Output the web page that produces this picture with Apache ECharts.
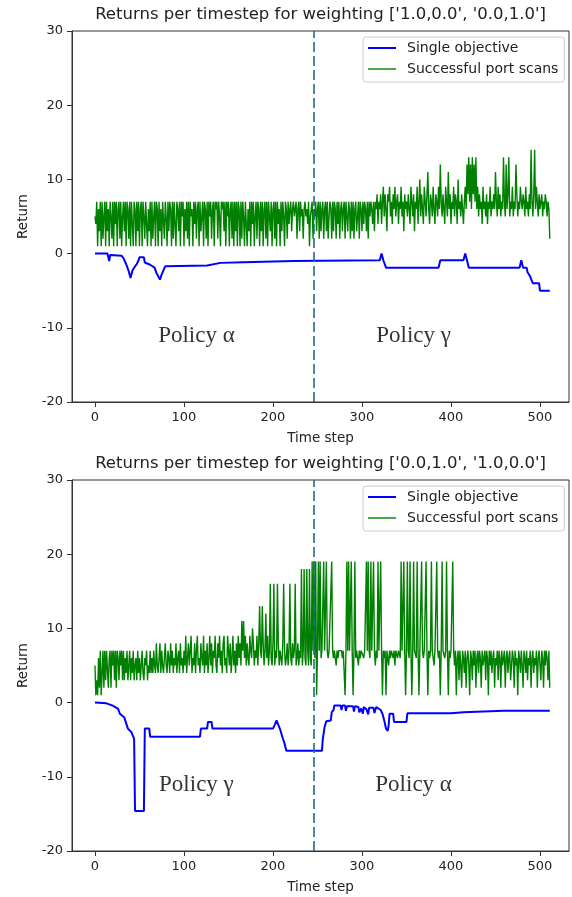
<!DOCTYPE html>
<html><head><meta charset="utf-8">
<script src="https://cdn.jsdelivr.net/npm/echarts@6/dist/echarts.min.js"></script>
<style>html,body{margin:0;padding:0;background:#fff}#c{width:572px;height:897px}</style>
</head><body><div id="c"></div>
<script>
// ---------------- data ----------------
const chartTitles = ["Returns per timestep for weighting ['1.0,0.0', '0.0,1.0']",
                     "Returns per timestep for weighting ['0.0,1.0', '1.0,0.0']"];
const seriesNames = ['Single objective', 'Successful port scans'];
const xTicks = [0, 100, 200, 300, 400, 500];
const yTicks = [-20, -10, 0, 10, 20, 30];
const switchStep = 246;

// top panel: single objective (breakpoints)
const topBlueX = [0,14,16,17,19,30,32,35,38,40,42,44,47,49,50,55,56,58,62,67,69,73,75,79,126,141,167,223,320,322,324,327,386,388,414,416,418,420,477,479,481,485,486,488,489,491,492,499,500,511];
const topBlueY = [0,0,-1,-0.2,-0.1,-0.3,-0.6,-1.4,-2.4,-3.3,-2.3,-1.9,-1.4,-0.9,-0.5,-0.5,-1.2,-1.2,-1.5,-1.9,-2.6,-3.5,-2.8,-1.7,-1.6,-1.25,-1.15,-1.0,-0.9,0,-0.9,-1.9,-1.9,-0.9,-0.9,0,-0.9,-1.9,-1.9,-0.9,-1.9,-1.9,-2.5,-2.5,-3.1,-3.1,-4.0,-4.0,-5.0,-5.0];
// top panel: successful port scans, one value per time step 0..511
const topGreen = [
5,4,7,1,6,3,7,1,7,2,5,7,1,7,3,6,1,7,5,2,7,1,7,4,7,1,6,7,2,7,1,5,
7,3,7,1,7,6,2,7,1,7,4,1,7,6,1,7,3,7,1,6,7,1,7,5,2,7,7,1,6,3,7,1,
7,2,5,7,1,7,6,1,7,3,6,1,7,7,2,7,5,1,7,3,7,6,1,7,2,7,4,1,7,6,3,7,
1,7,5,7,1,6,3,7,2,7,1,7,5,6,1,7,4,7,2,6,7,1,7,3,5,7,1,7,6,2,7,1,
7,5,7,2,6,7,1,7,6,7,2,7,5,1,7,6,7,3,7,1,7,5,7,1,6,7,2,7,1,7,3,7,
1,7,6,1,7,2,7,5,1,7,7,1,6,3,7,1,7,4,7,1,5,7,2,7,6,1,7,3,7,1,6,7,
2,7,1,7,5,3,7,1,6,7,2,7,1,7,4,6,1,7,3,7,5,1,7,6,2,7,4,6,7,3,6,7,
5,6,7,2,6,7,3,7,5,6,2,6,7,5,6,4,7,1,5,6,7,2,6,5,7,3,6,7,2,7,3,6,
7,2,6,7,3,7,2,5,7,6,2,7,3,7,6,2,7,4,7,2,6,7,3,6,7,2,7,5,3,7,6,2,
7,3,7,2,6,7,3,5,7,2,7,6,3,7,4,7,6,3,7,2,7,5,7,6,4,7,3,7,6,8,4,7,
6,8,4,7,9,5,8,6,3,8,7,9,5,7,4,8,6,9,5,7,8,4,7,6,9,5,7,3,8,6,7,5,
8,6,4,9,7,5,8,3,7,6,9,4,7,10,5,8,6,4,9,7,5,8,11,6,4,8,7,5,9,6,4,8,
7,5,9,6,12,7,5,8,6,4,9,7,5,11,6,8,4,7,6,9,5,8,7,4,10,6,7,5,8,6,4,7,
9,6,12,8,13,7,12,6,13,8,12,7,13,6,9,5,8,6,7,4,9,6,7,5,8,4,7,6,9,5,7,6,
8,6,11,7,5,9,6,8,5,7,6,13,7,5,12,6,8,13,5,7,6,9,5,7,6,12,8,5,7,6,9,7,
6,8,7,5,9,6,7,5,8,6,14,7,5,8,14,6,9,7,5,8,6,7,8,5,7,6,8,7,5,7,6,2];

// bottom panel: single objective (breakpoints)
const botBlueX = [0,13,20,26,28,33,34,37,41,44,45,55,56,61,62,118,119,126,127,131,132,200,202,204,206,208,211,213,215,255,256,258,260,265,266,268,269,271,276,277,278,281,282,283,290,291,292,296,297,299,301,302,305,307,308,313,314,316,318,321,323,325,327,329,330,331,335,336,350,351,400,414,444,459,511];
const botBlueY = [0,-0.1,-0.4,-0.85,-1.5,-2.0,-2.4,-3.5,-4.0,-4.9,-14.6,-14.6,-3.5,-3.5,-4.6,-4.6,-3.5,-3.5,-2.6,-2.6,-3.5,-3.5,-3.0,-2.4,-3.0,-3.6,-4.8,-5.5,-6.5,-6.5,-4.9,-3.3,-2.5,-2.4,-1.3,-1.0,-0.4,-0.4,-0.4,-1.0,-0.4,-0.4,-1.1,-0.5,-0.5,-1.2,-0.5,-0.6,-1.3,-0.8,-1.5,-0.6,-0.9,-1.6,-0.7,-0.7,-1.4,-0.6,-0.6,-1.0,-1.5,-2.4,-3.5,-3.8,-3.0,-1.5,-1.5,-2.6,-2.6,-1.45,-1.45,-1.3,-1.15,-1.1,-1.1];
// bottom panel: successful port scans, one value per time step 0..511
const botGreen = [
5,1,3,1,6,2,7,1,4,7,2,7,3,7,7,2,6,7,2,7,5,7,3,7,2,7,6,3,7,5,7,3,
7,3,6,4,7,3,5,7,3,6,4,7,3,5,6,3,7,4,6,3,5,7,4,3,6,5,7,3,5,4,7,4,
6,4,7,5,4,8,5,4,6,8,4,7,5,4,6,8,5,4,7,6,4,8,5,7,4,6,5,8,4,6,7,4,
8,5,6,4,7,5,9,4,6,8,5,7,9,4,6,5,8,4,7,9,5,6,4,8,6,5,9,4,7,5,8,4,
6,9,5,8,4,7,6,9,5,4,8,6,9,5,7,4,8,9,5,6,4,9,7,5,8,4,6,9,5,7,4,8,
5,9,6,8,5,11,7,11,6,9,5,8,6,5,9,7,6,10,8,5,7,6,9,5,8,13,7,6,13,8,5,7,
12,6,9,5,7,16,6,5,8,16,5,7,6,16,8,5,7,6,5,8,16,7,5,6,8,5,7,16,6,5,8,6,
7,16,5,6,8,5,7,6,18,5,7,18,6,5,18,7,5,18,6,5,19,7,19,6,19,1,7,19,7,19,6,7,
7,19,7,7,19,7,6,7,7,7,19,7,6,7,7,5,7,6,7,7,7,7,6,7,7,1,7,19,7,19,7,7,
19,7,1,7,19,6,7,7,5,7,6,7,7,7,6,7,7,19,7,19,7,6,19,7,7,19,7,5,7,6,19,7,
7,19,7,1,7,6,7,1,7,7,5,7,6,7,7,6,7,5,7,7,6,7,7,6,19,7,7,19,7,1,7,19,
7,6,19,7,1,7,19,7,7,6,19,7,1,7,7,19,7,6,7,7,19,7,1,7,6,7,19,7,7,5,7,7,
19,7,6,7,1,7,19,7,7,6,7,19,7,1,7,6,7,7,19,7,5,7,1,6,7,3,7,5,2,7,6,4,
7,2,6,7,5,1,7,6,3,7,5,7,2,6,7,4,7,6,2,7,5,6,7,3,7,6,1,7,5,7,4,6,
7,2,6,5,7,3,7,6,2,7,5,6,7,2,6,7,4,6,7,3,5,7,6,2,7,5,6,1,7,6,4,7,
5,2,7,6,4,7,3,6,5,7,2,6,7,4,6,5,7,2,6,7,5,3,7,6,2,7,5,7,6,3,7,2];

// policy annotations (data coordinates)
const topPolicyText = ['Policy α', 'Policy γ'];
const botPolicyText = ['Policy γ', 'Policy α'];
const policyX = [114, 358];
const policyY = -11.1;

// ---------------- layout / style ----------------
const GL = 72, GW = 497, GH = 371, GT = [31, 480];
const XMIN = -25.8, XMAX = 532.6;
const AX = '#333333', TXT = '#222222';
const BLUE = '#0000ff', GREEN = '#008000', VLINE = '#23688c';
const BLUE_W = 2, GREEN_W = 1.4;
const FONT = 'DejaVu Sans';

const chart = echarts.init(document.getElementById('c'), null, {renderer: 'canvas'});
const zipXY = (xs, ys) => xs.map((x, i) => [x, ys[i]]);
const idx = arr => arr.map((v, i) => [i, v]);
const minusFmt = v => (v < 0 ? '-' + Math.abs(v) : String(v));
const lineIcon = w => 'path://M0,0H28V' + w + 'H0Z';

const grids = [], xAxes = [], yAxes = [], series = [], legends = [], graphics = [];
const panels = [
  {blue: zipXY(topBlueX, topBlueY), green: idx(topGreen), text: topPolicyText},
  {blue: zipXY(botBlueX, botBlueY), green: idx(botGreen), text: botPolicyText}
];
panels.forEach((p, k) => {
  grids.push({left: GL, top: GT[k], width: GW, height: GH, show: true,
    borderColor: AX, borderWidth: 1, backgroundColor: 'transparent', outerBoundsMode: 'none', containLabel: false});
  xAxes.push({type: 'value', gridIndex: k, min: XMIN, max: XMAX,
    name: 'Time step', nameLocation: 'middle', nameGap: 29,
    nameTextStyle: {fontFamily: FONT, fontSize: 13.5, color: TXT},
    axisLine: {show: true, onZero: false, lineStyle: {color: AX, width: 1}},
    axisTick: {show: true, length: 5, customValues: xTicks, lineStyle: {color: AX}},
    axisLabel: {customValues: xTicks, fontFamily: FONT, fontSize: 13, color: TXT, margin: 9},
    splitLine: {show: false}});
  yAxes.push({type: 'value', gridIndex: k, min: yTicks[0], max: yTicks[yTicks.length - 1], interval: 10,
    name: 'Return', nameLocation: 'middle', nameGap: 41,
    nameTextStyle: {fontFamily: FONT, fontSize: 13.5, color: TXT},
    axisLine: {show: true, onZero: false, lineStyle: {color: AX, width: 1}},
    axisTick: {show: true, length: 5, lineStyle: {color: AX}},
    axisLabel: {fontFamily: FONT, fontSize: 13, color: TXT, margin: 9, formatter: minusFmt},
    splitLine: {show: false}});
  series.push({type: 'line', name: seriesNames[0], xAxisIndex: k, yAxisIndex: k,
    data: p.blue, symbol: 'none', lineStyle: {color: BLUE, width: BLUE_W}, itemStyle: {color: BLUE}, z: 3, animation: false});
  series.push({type: 'line', name: seriesNames[1], xAxisIndex: k, yAxisIndex: k,
    data: p.green, symbol: 'none', lineStyle: {color: GREEN, width: GREEN_W}, itemStyle: {color: GREEN}, z: 2, animation: false,
    markLine: {silent: true, symbol: ['none', 'none'], label: {show: false},
      lineStyle: {color: VLINE, width: 1.6, type: [10, 4]}, data: [{xAxis: switchStep}], animation: false}});
  series.push({type: 'scatter', xAxisIndex: k, yAxisIndex: k, symbolSize: 1, silent: true,
    itemStyle: {color: 'rgba(0,0,0,0)'}, z: 5,
    data: p.text.map((t, i) => ({name: t, value: [policyX[i], policyY]})),
    label: {show: true, position: 'inside', formatter: q => q.name,
      fontFamily: 'Liberation Serif', fontSize: 23, color: '#000'}});
  legends.push({
    data: [{name: seriesNames[0], icon: lineIcon(BLUE_W)}, {name: seriesNames[1], icon: lineIcon(GREEN_W)}],
    orient: 'vertical', left: 363, top: GT[k] + 6,
    itemWidth: 28, itemHeight: 14, itemGap: 7, padding: [4, 6, 6, 5],
    backgroundColor: 'rgba(255,255,255,0.8)', borderColor: '#cccccc', borderWidth: 1, borderRadius: 3,
    selectedMode: false,
    textStyle: {fontFamily: FONT, fontSize: 14, color: TXT, padding: [0, 0, 0, 6]}});
  graphics.push({type: 'text', x: GL + GW / 2, y: GT[k] - 16,
    style: {text: chartTitles[k], font: '16.5px "DejaVu Sans"', fill: TXT,
      align: 'center', verticalAlign: 'middle', textAlign: 'center', textVerticalAlign: 'middle'}});
});

chart.setOption({
  animation: false,
  backgroundColor: '#ffffff',
  grid: grids, xAxis: xAxes, yAxis: yAxes, series: series, legend: legends, graphic: graphics
});
</script></body></html>
